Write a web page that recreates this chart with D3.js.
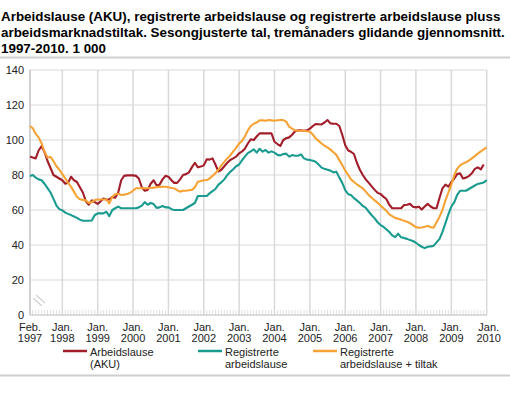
<!DOCTYPE html>
<html><head><meta charset="utf-8">
<script src="https://cdn.jsdelivr.net/npm/d3@7"></script>
<style>
html,body{margin:0;padding:0;background:#fff;}
svg{display:block;font-family:"Liberation Sans",Arial,sans-serif;}
</style></head>
<body><svg id="chart" width="510" height="397"></svg>
<script>
// ---- data (1 000 persons, monthly, seasonally adjusted 3-month moving average) ----
const startMonth = "1997-02";
const aku = [
90.5,90,89.5,94,96.5,93,88,84,80,79,78,
77,75,75.5,79,77,76,73,70,65,63,65.5,64.5,
63.5,65,66.5,66,66,67.5,67,70,77,79.5,79.8,79.8,
79.8,79.5,78,73,71,71.5,75,77,74,74.5,77.5,79.5,
79,77,75.5,75.5,77.5,80,80.5,81.5,84.5,87,84.4,84.8,
85.5,89,88.8,89.5,86,82,83,85,87,88.6,89.5,90.5,
92.4,93.5,95,98,100.4,100,102,103.8,103.8,103.8,103.8,103.8,
99,97.7,96.6,100,101,101.5,103,105,105.5,105.5,105.3,105.5,
106.5,108,109.1,109,108.9,110,111.4,109.5,109.3,109.3,108,103,
97,94,93.3,92,87,83,80,77.5,75.5,73.5,71.5,69.8,
69.1,67.5,66.3,63,61,61,61,61,62.9,63,63.5,61.9,
61.5,61.9,60.3,62,63.5,62,61,61,67,72.4,74.5,73.3,
76,78,80.5,81,78,78.5,79.4,81,83.5,84.4,83.2,86
];
const registrerte = [
79.4,80,78.5,77.5,77,75,72.5,70,66.5,62.5,60.5,
59.8,58.5,57.8,57.1,56.3,55.5,54.5,53.9,53.9,53.9,54,57,
58.1,58.1,58.1,59,56.5,60,61,61.9,61,61,61,61,
61,61,61.5,62.5,64.5,63,64,63.4,61.2,61.5,62.3,61.5,
61.5,60.5,60,60,60,60,61,62,63,64,68,68,
68,68,69.5,70.8,72,74.5,75.8,77.5,80,81.8,83.3,85,
86,88.5,90.5,92.5,93.5,94.7,92.8,95,93.3,94.3,92.8,93.5,
92.8,91.5,91.2,92,92.2,90.5,91.4,91,91,91.8,89.5,88.8,
88.6,88.2,87.6,86,84.2,83.5,83,82.5,81.5,81.9,78.5,75.5,
71.4,69,68.6,66.8,65.5,64,62.3,61.2,59,57,55.2,53,
51.4,50.3,49,47.4,45.5,44.5,46.5,44.4,44,43.5,42.8,42.3,
41.3,40,39,38.2,39,39.2,39.5,41.5,43.5,47.5,52.5,57.5,
62,64.5,68.5,71,71,71,72,73,74,74.9,75.3,75.7,77.1
];
const registrerteTiltak = [
108,106.7,103.5,101.5,98,93.3,90,90.3,88,85,83,
80.5,78,75.5,73.2,70.5,67.6,66.1,65.8,65.5,64,64.5,65.7,
66,66,66,66.1,63.8,67.6,69,69.3,68.6,68.8,69.1,69.8,
71,72.4,72.4,72.4,72.4,72.4,72.6,72.8,73,73.2,73.3,73.3,
73,72.6,72.4,71.3,70.5,71,71,71.3,71.5,73,76.2,76.6,
77,77.1,78,79.5,81,83,85.5,87.5,89.5,91.2,93.5,95.5,
98.1,99.5,102,105.5,108,109.3,110,111.2,111.2,111,111.4,111.2,
111,111.3,111.4,111.4,110.5,107.6,106.5,105.5,105.3,105.3,105.3,105,
104.8,103,101,99.5,98,96.8,95.8,94.5,93,91.5,88.5,85.7,
82.5,80,77.5,76,74.7,73.5,72.4,70.5,68.5,67,65.5,64.2,
62.5,61,59.6,57.5,56.5,55.5,55,54.5,53.8,53.3,52.5,51.4,
50.2,49.9,50,50.4,50.9,50.2,49.9,53,56.2,60,65.5,70,
74.5,80,83.5,85.5,86.5,87.3,88.2,89.5,90.8,92.2,93.5,94.7,95.8
];
const seriesNames = [["Arbeidslause","(AKU)"],["Registrerte","arbeidslause"],["Registrerte","arbeidslause + tiltak"]];
const seriesColors = ["#a21d2a","#1a9b90","#f7a235"];
const yTicks = [0,20,40,60,80,100,120,140];
const xTickDates = ["1997-02","1998-01","1999-01","2000-01","2001-01","2002-01","2003-01","2004-01","2005-01","2006-01","2007-01","2008-01","2009-01","2010-01"];
const xTickMonth = ["Feb.","Jan.","Jan.","Jan.","Jan.","Jan.","Jan.","Jan.","Jan.","Jan.","Jan.","Jan.","Jan.","Jan."];
const titleLines = [
 "Arbeidslause (AKU), registrerte arbeidslause og registrerte arbeidslause pluss",
 "arbeidsmarknadstiltak. Sesongjusterte tal, tremånaders glidande gjennomsnitt.",
 "1997-2010. 1 000"
];

// ---- drawing ----
const svg = d3.select("#chart");
const parse = d3.utcParse("%Y-%m");
const t0 = parse(startMonth);
const monthDate = i => d3.utcMonth.offset(t0, i);

const x = d3.scaleUtc().domain([parse("1997-02"), parse("2010-01")]).range([30, 486.7]);
const y = d3.scaleLinear().domain([0, 140]).range([315, 70]);
const grid = "#d9d9d9";

// title
svg.append("g").selectAll("text").data(titleLines).join("text")
  .attr("x", 1).attr("y", (d,i) => 20.5 + i*16)
  .attr("font-size", 13.4).attr("font-weight", "bold").attr("fill", "#000")
  .text(d => d);
svg.append("line").attr("x1",0).attr("x2",510).attr("y1",57.5).attr("y2",57.5)
  .attr("stroke","#cfcfcf").attr("stroke-width",2);
svg.append("line").attr("x1",0).attr("x2",510).attr("y1",375.5).attr("y2",375.5)
  .attr("stroke","#cfcfcf").attr("stroke-width",2);

// horizontal grid
svg.append("g").selectAll("line").data(yTicks.filter(v => v > 0)).join("line")
  .attr("x1", 30).attr("x2", 487).attr("y1", d => y(d)).attr("y2", d => y(d))
  .attr("stroke", grid).attr("stroke-width", 1);
// vertical grid
svg.append("g").selectAll("line").data(xTickDates.slice(1)).join("line")
  .attr("x1", d => x(parse(d))).attr("x2", d => x(parse(d)))
  .attr("y1", 70).attr("y2", 315).attr("stroke", grid).attr("stroke-width", 1.5);
// monthly minor ticks
const months = d3.range(0, 156).map(monthDate);
svg.append("g").selectAll("line").data(months).join("line")
  .attr("x1", d => x(d)).attr("x2", d => x(d)).attr("y1", 310).attr("y2", 315)
  .attr("stroke", grid).attr("stroke-width", 0.8);
// baseline and y axis line
svg.append("line").attr("x1",30).attr("x2",487).attr("y1",315).attr("y2",315).attr("stroke","#d0d0d0").attr("stroke-width",1.5);
svg.append("line").attr("x1",30).attr("x2",30).attr("y1",70).attr("y2",315).attr("stroke","#d0d0d0").attr("stroke-width",2);
// axis break
[[0,0],[3,-3]].forEach(([dx,dy]) => {
  svg.append("line").attr("x1",33+dx).attr("y1",298+dy).attr("x2",42+dx).attr("y2",306+dy)
    .attr("stroke","#d0d0d0").attr("stroke-width",1.2);
});

// y labels
svg.append("g").selectAll("text").data(yTicks).join("text")
  .attr("x", 24).attr("y", d => y(d) + 3.5).attr("text-anchor", "end")
  .attr("font-size", 11).attr("fill", "#222").text(d => d);
// x labels
const xl = svg.append("g").selectAll("g").data(xTickDates).join("g")
  .attr("transform", (d,i) => `translate(${x(parse(d)) + (i===xTickDates.length-1 ? 2 : 0)},0)`);
xl.append("text").attr("y", 330.5).attr("text-anchor","middle").attr("font-size",11).attr("fill","#222")
  .text((d,i) => xTickMonth[i]);
xl.append("text").attr("y", 342).attr("text-anchor","middle").attr("font-size",11).attr("fill","#222")
  .text(d => d.slice(0,4));

// series lines
const line = d3.line().x((d,i) => x(monthDate(i))).y(d => y(d));
[aku, registrerte, registrerteTiltak].forEach((s, k) => {
  svg.append("path").datum(s).attr("d", line).attr("fill","none")
    .attr("stroke", seriesColors[k]).attr("stroke-width", 2.1).attr("stroke-linejoin","round");
});

// legend
const legX = [63, 198, 313];
const lg = svg.append("g").selectAll("g").data(seriesNames).join("g")
  .attr("transform", (d,i) => `translate(${legX[i]},0)`);
lg.append("line").attr("x1",0).attr("x2",24).attr("y1",351).attr("y2",351)
  .attr("stroke",(d,i) => seriesColors[i]).attr("stroke-width",2.5);
lg.append("text").attr("x",27).attr("y",356).attr("font-size",11).attr("fill","#222").text(d => d[0]);
lg.append("text").attr("x",27).attr("y",368).attr("font-size",11).attr("fill","#222").text(d => d[1]);
</script></body></html>
